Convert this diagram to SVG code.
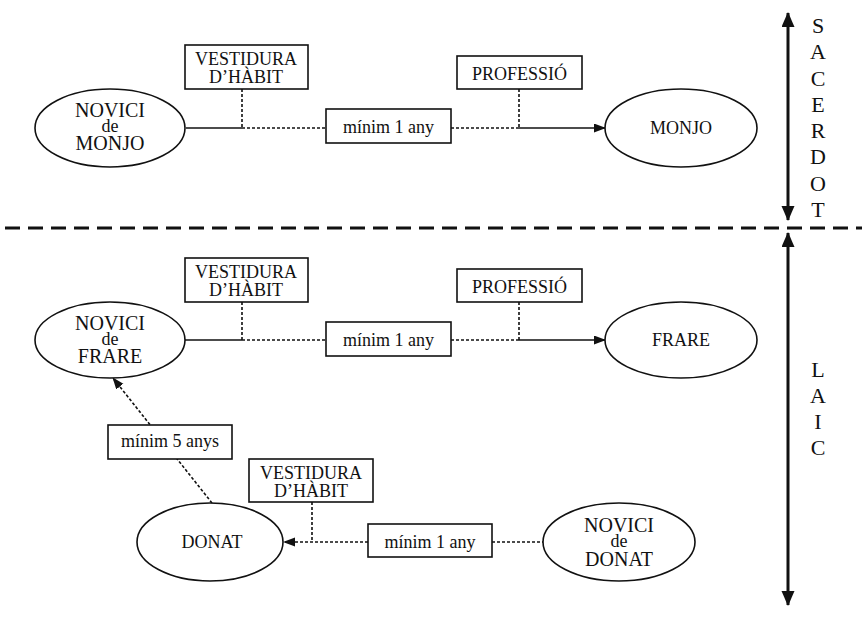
<svg xmlns="http://www.w3.org/2000/svg" width="862" height="620" viewBox="0 0 862 620">
<style>
text{font-family:"Liberation Serif","Times New Roman",serif;fill:#111;text-anchor:middle}
.box{fill:#fff;stroke:#111;stroke-width:1.6}
.ell{fill:#fff;stroke:#111;stroke-width:1.6}
.bt{font-size:18px}
.nt{font-size:20px}
.de{font-size:18px}
.solid{stroke:#111;stroke-width:1.6;fill:none}
.dot{stroke:#111;stroke-width:1.6;fill:none;stroke-dasharray:3 2}
.axis{stroke:#111;stroke-width:3;fill:none}
.side{font-size:22px}
</style>
<defs>
<marker id="ah" markerUnits="userSpaceOnUse" markerWidth="12" markerHeight="10" refX="11" refY="4.5" orient="auto">
<path d="M0,0 L12,4.5 L0,9 Z" fill="#111"/>
</marker>
<marker id="big" markerUnits="userSpaceOnUse" markerWidth="16" markerHeight="14" refX="14" refY="6.5" orient="auto-start-reverse">
<path d="M0,0 L15,6.5 L0,13 Z" fill="#111"/>
</marker>
</defs>

<g id="separator">
<line x1="5" y1="228" x2="862" y2="228" stroke="#111" stroke-width="3" stroke-dasharray="15 8"/>
</g>

<g id="connectors">
<line class="solid" x1="186" y1="128" x2="242" y2="128"/>
<line class="dot" x1="242" y1="89" x2="242" y2="128"/>
<line class="dot" x1="242" y1="128" x2="326" y2="128"/>
<line class="dot" x1="451" y1="128" x2="519" y2="128"/>
<line class="dot" x1="519" y1="89" x2="519" y2="128"/>
<line class="solid" x1="519" y1="128" x2="605" y2="128" marker-end="url(#ah)"/>
<line class="solid" x1="185" y1="340" x2="242" y2="340"/>
<line class="dot" x1="242" y1="302" x2="242" y2="340"/>
<line class="dot" x1="242" y1="340" x2="326" y2="340"/>
<line class="dot" x1="451" y1="340" x2="519" y2="340"/>
<line class="dot" x1="519" y1="302" x2="519" y2="340"/>
<line class="solid" x1="519" y1="340" x2="605" y2="340" marker-end="url(#ah)"/>
<line class="dot" x1="212" y1="503" x2="113" y2="378" marker-end="url(#ah)"/>
<line class="dot" x1="492" y1="542" x2="543" y2="542"/>
<line class="dot" x1="368" y1="542" x2="284" y2="542" marker-end="url(#ah)"/>
<line class="dot" x1="312" y1="502" x2="312" y2="542"/>
<line class="axis" x1="788" y1="13" x2="788" y2="220" marker-start="url(#big)" marker-end="url(#big)"/>
<line class="axis" x1="788" y1="233" x2="788" y2="605" marker-start="url(#big)" marker-end="url(#big)"/>
</g>

<g id="novici-monjo">
<ellipse class="ell" cx="110" cy="128" rx="75" ry="39"/>
<text class="nt" x="110" y="117">NOVICI<tspan class="de" x="110" y="132">de</tspan><tspan x="110" y="150">MONJO</tspan></text>
</g>
<g id="vestidura-1">
<rect class="box" x="185" y="45" width="123" height="44"/>
<text class="bt" x="246" y="65">VESTIDURA<tspan x="246" y="83">D’HÀBIT</tspan></text>
</g>
<g id="minim-1">
<rect class="box" x="326" y="109" width="125" height="34"/>
<text class="bt" x="388.5" y="133">mínim 1 any</text>
</g>
<g id="professio-1">
<rect class="box" x="457" y="56" width="125" height="33"/>
<text class="bt" x="519.5" y="80">PROFESSIÓ</text>
</g>
<g id="monjo">
<ellipse class="ell" cx="681" cy="128" rx="76" ry="39"/>
<text class="bt" x="681" y="134">MONJO</text>
</g>

<g id="novici-frare">
<ellipse class="ell" cx="110" cy="340" rx="75" ry="38"/>
<text class="nt" x="110" y="330">NOVICI<tspan class="de" x="110" y="345">de</tspan><tspan x="110" y="363">FRARE</tspan></text>
</g>
<g id="vestidura-2">
<rect class="box" x="185" y="258" width="123" height="44"/>
<text class="bt" x="246" y="278">VESTIDURA<tspan x="246" y="296">D’HÀBIT</tspan></text>
</g>
<g id="minim-2">
<rect class="box" x="326" y="322" width="125" height="34"/>
<text class="bt" x="388.5" y="346">mínim 1 any</text>
</g>
<g id="professio-2">
<rect class="box" x="457" y="269" width="125" height="33"/>
<text class="bt" x="519.5" y="293">PROFESSIÓ</text>
</g>
<g id="frare">
<ellipse class="ell" cx="681" cy="340" rx="76" ry="38"/>
<text class="bt" x="681" y="346">FRARE</text>
</g>

<g id="minim-5">
<rect class="box" x="108" y="425" width="124" height="34"/>
<text class="bt" x="170" y="447">mínim 5 anys</text>
</g>
<g id="donat">
<ellipse class="ell" cx="210" cy="542" rx="73" ry="39"/>
<text class="bt" x="212" y="548">DONAT</text>
</g>
<g id="vestidura-3">
<rect class="box" x="249" y="459" width="124" height="43"/>
<text class="bt" x="311" y="479">VESTIDURA<tspan x="311" y="497">D’HÀBIT</tspan></text>
</g>
<g id="minim-3">
<rect class="box" x="368" y="524" width="124" height="33"/>
<text class="bt" x="430" y="548">mínim 1 any</text>
</g>
<g id="novici-donat">
<ellipse class="ell" cx="619" cy="542" rx="76" ry="39"/>
<text class="nt" x="619" y="532">NOVICI<tspan class="de" x="619" y="547">de</tspan><tspan x="619" y="566">DONAT</tspan></text>
</g>

<g id="sacerdot">
<text class="side" x="818" y="33">S</text>
<text class="side" x="818" y="59">A</text>
<text class="side" x="818" y="86">C</text>
<text class="side" x="818" y="112">E</text>
<text class="side" x="818" y="138">R</text>
<text class="side" x="818" y="164">D</text>
<text class="side" x="818" y="191">O</text>
<text class="side" x="818" y="217">T</text>
</g>
<g id="laic">
<text class="side" x="818" y="377">L</text>
<text class="side" x="818" y="403">A</text>
<text class="side" x="818" y="429">I</text>
<text class="side" x="818" y="455">C</text>
</g>
</svg>
